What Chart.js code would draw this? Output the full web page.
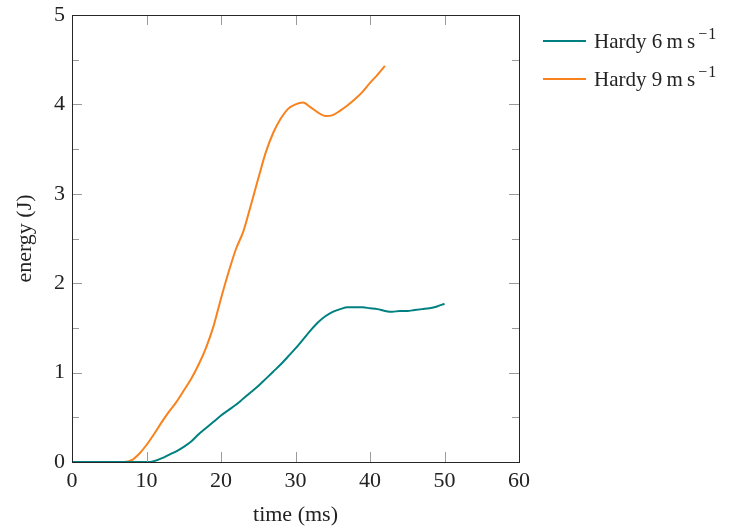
<!DOCTYPE html>
<html>
<head>
<meta charset="utf-8">
<script src="https://cdn.jsdelivr.net/npm/chart.js@4"></script>
<style>
  html, body { margin: 0; padding: 0; background: #fff; }
  #wrap { width: 745px; height: 529px; }
</style>
</head>
<body>
<div id="wrap"><canvas id="chart"></canvas></div>
<script>
// time (ms) and energy (J)
const time6 = [0, 10, 11, 12, 13, 14, 15, 16, 17, 18, 19, 20, 21, 22, 23, 24, 25, 26, 27, 28, 29, 30,
    31, 32, 33, 34, 35, 36, 37, 38, 39, 40, 41, 42, 43, 44, 45, 46, 47, 48, 49, 50];
const energy6 = [0, 0, 0.01, 0.04, 0.08, 0.12, 0.17, 0.23, 0.31, 0.38, 0.45, 0.52, 0.58, 0.64, 0.71, 0.78,
    0.85, 0.93, 1.01, 1.09, 1.18, 1.27, 1.37, 1.47, 1.56, 1.63, 1.68, 1.71, 1.73, 1.73, 1.73, 1.72,
    1.71, 1.69, 1.68, 1.69, 1.69, 1.70, 1.71, 1.72, 1.74, 1.77];
const time9 = [0, 7, 8, 9, 10, 11, 12, 13, 14, 15, 16, 17, 18, 19, 20, 21, 22, 23, 24, 25, 26, 27, 28,
    29, 30, 31, 32, 33, 34, 35, 36, 37, 38, 39, 40, 41, 42];
const energy9 = [0, 0, 0.02, 0.09, 0.19, 0.31, 0.44, 0.56, 0.67, 0.80, 0.93, 1.09, 1.28, 1.52, 1.83, 2.12,
    2.38, 2.58, 2.87, 3.17, 3.46, 3.68, 3.84, 3.95, 4.00, 4.02, 3.97, 3.91, 3.87, 3.88, 3.93, 3.99,
    4.06, 4.14, 4.24, 4.33, 4.43];
const seriesNames = ['Hardy 6\u2009m\u2009s', 'Hardy 9\u2009m\u2009s'];
const seriesColors = ['#008080', '#f7821e'];
const xTicks = [0, 10, 20, 30, 40, 50, 60];

const FONT = "'Liberation Serif', 'Times New Roman', serif";

const toPoints = (xs, ys) => xs.map((x, i) => ({ x: x, y: ys[i] }));

// frame with inward ticks on all four sides (pgfplots look)
const framePlugin = {
    id: 'frame',
    afterDatasetsDraw(chart) {
        const { ctx, chartArea: a, scales } = chart;
        ctx.save();
        ctx.lineWidth = 1;
        ctx.strokeStyle = '#9a9a9a';
        ctx.beginPath();
        xTicks.forEach(v => {
            const px = Math.round(scales.x.getPixelForValue(v)) + 0.5;
            ctx.moveTo(px, a.bottom); ctx.lineTo(px, a.bottom - 10);
            ctx.moveTo(px, a.top); ctx.lineTo(px, a.top + 10);
        });
        scales.y.ticks.forEach(t => {
            const py = Math.round(scales.y.getPixelForValue(t.value)) + 0.5;
            const len = Number.isInteger(t.value) ? 10 : 7;
            ctx.moveTo(a.left, py); ctx.lineTo(a.left + len, py);
            ctx.moveTo(a.right, py); ctx.lineTo(a.right - len, py);
        });
        ctx.stroke();
        ctx.strokeStyle = '#262626';
        ctx.strokeRect(Math.round(a.left) + 0.5, Math.round(a.top) + 0.5,
            Math.round(a.right - a.left), Math.round(a.bottom - a.top));
        ctx.restore();
    }
};

// legend outside on the right with superscript unit
const legendPlugin = {
    id: 'texLegend',
    afterDraw(chart) {
        const { ctx } = chart;
        ctx.save();
        chart.data.datasets.forEach((ds, i) => {
            const y = 41 + i * 38;
            ctx.strokeStyle = ds.borderColor;
            ctx.lineWidth = 2;
            ctx.beginPath();
            ctx.moveTo(543, y); ctx.lineTo(586, y);
            ctx.stroke();
            ctx.fillStyle = '#222';
            ctx.textBaseline = 'alphabetic';
            ctx.font = '21px ' + FONT;
            ctx.fillText(ds.label, 594, y + 7);
            const w = ctx.measureText(ds.label).width;
            ctx.font = '16px ' + FONT;
            const mw = ctx.measureText('\u2212').width;
            ctx.fillText('\u2212', 594 + w + 3, y - 2);
            ctx.fillText('1', 594 + w + 4 + mw, y - 2);
        });
        ctx.restore();
    }
};

new Chart(document.getElementById('chart'), {
    type: 'line',
    data: {
        datasets: [
            { label: seriesNames[0], data: toPoints(time6, energy6), borderColor: seriesColors[0] },
            { label: seriesNames[1], data: toPoints(time9, energy9), borderColor: seriesColors[1] }
        ]
    },
    options: {
        responsive: true,
        maintainAspectRatio: false,
        animation: false,
        elements: {
            line: { borderWidth: 2, tension: 0.4, cubicInterpolationMode: 'monotone', fill: false },
            point: { radius: 0 }
        },
        layout: { padding: { top: 15, right: 226, left: 0, bottom: 0 } },
        plugins: {
            legend: { display: false },
            tooltip: { enabled: false }
        },
        scales: {
            x: {
                type: 'linear',
                min: 0,
                max: 60,
                afterBuildTicks: (s) => { s.ticks = xTicks.map(v => ({ value: v })); },
                afterFit: (s) => { s.height = 67; s.paddingLeft = 0; s.paddingRight = 0; },
                grid: { display: false, drawTicks: false },
                border: { display: false },
                ticks: { color: '#222', padding: 6, maxRotation: 0, font: { family: FONT, size: 22 } },
                title: {
                    display: true,
                    text: 'time (ms)',
                    color: '#222',
                    padding: { top: 0, bottom: 1 },
                    font: { family: FONT, size: 22 }
                }
            },
            y: {
                min: 0,
                max: 5,
                afterFit: (s) => { s.width = 72; s.paddingTop = 0; s.paddingBottom = 0; },
                grid: { display: false, drawTicks: false },
                border: { display: false },
                ticks: {
                    stepSize: 0.5,
                    color: '#222',
                    padding: 7,
                    font: { family: FONT, size: 22 },
                    callback: (v) => Number.isInteger(v) ? String(v) : ''
                },
                title: {
                    display: true,
                    text: 'energy (J)',
                    color: '#222',
                    padding: { top: 12, bottom: 0 },
                    font: { family: FONT, size: 22 }
                }
            }
        }
    },
    plugins: [framePlugin, legendPlugin]
});
</script>
</body>
</html>
